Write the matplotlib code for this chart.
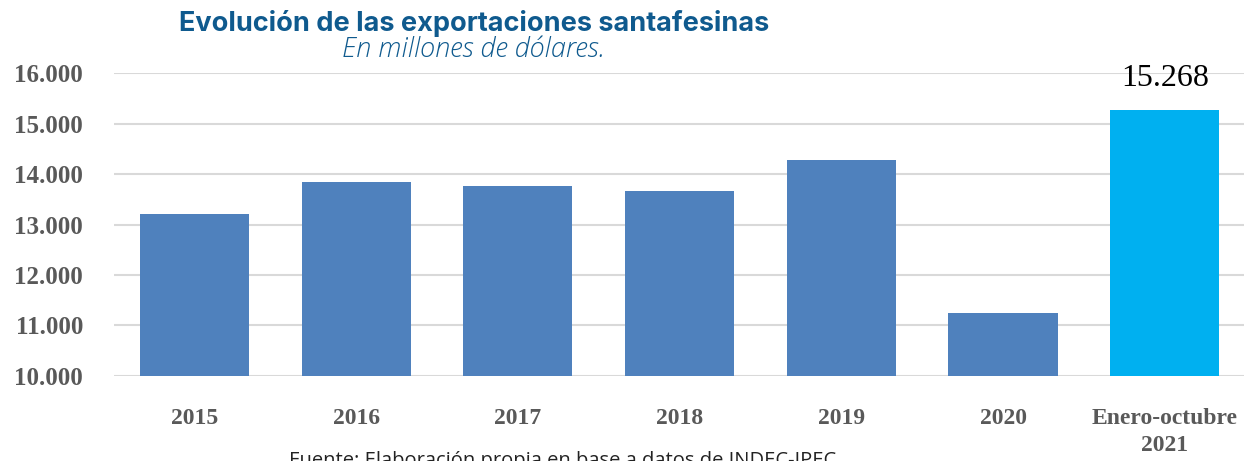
import matplotlib
matplotlib.use("Agg")
import matplotlib.pyplot as plt
from matplotlib.ticker import FuncFormatter

CATEGORIES = ["2015", "2016", "2017", "2018", "2019", "2020", "Enero-octubre\n2021"]
EXPORTS    = [13208, 13842, 13762, 13663, 14277, 11248, 15268]
BAR_COLORS = ["#4F81BD"] * 6 + ["#00B0F0"]
Y_TICKS    = [10000, 11000, 12000, 13000, 14000, 15000, 16000]

TITLE_BLUE = "#0F5A8E"
TICK_GRAY  = "#595959"

fig = plt.figure(figsize=(12.44, 4.61), dpi=100)
ax = fig.add_axes([0.0913, 0.1844, 0.9087, 0.6572])

x = range(len(CATEGORIES))
ax.bar(x, [v - Y_TICKS[0] for v in EXPORTS], bottom=Y_TICKS[0],
       width=0.675, color=BAR_COLORS, zorder=3)

# label only the last bar
ax.text(6, EXPORTS[-1] + 330, "15.268", ha="center", va="bottom",
        fontsize=23, family="Liberation Serif", color="black")

ax.set_ylim(Y_TICKS[0], Y_TICKS[-1])
ax.set_xlim(-0.5, 6.49)
ax.set_yticks(Y_TICKS)
ax.yaxis.set_major_formatter(FuncFormatter(lambda v, p: f"{int(v):,}".replace(",", ".")))
ax.set_xticks(list(x))
ax.set_xticklabels(CATEGORIES, linespacing=1.4)

ax.grid(axis="y", color="#D9D9D9", linewidth=1.5, zorder=0)
ax.set_axisbelow(True)
for s in ax.spines.values():
    s.set_visible(False)
ax.tick_params(axis="both", length=0, colors=TICK_GRAY)
ax.tick_params(axis="y", pad=22)
ax.tick_params(axis="x", pad=23)
for lbl in ax.get_yticklabels():
    lbl.set_fontfamily("Liberation Serif")
    lbl.set_fontweight("bold")
    lbl.set_fontsize(18)
for lbl in ax.get_xticklabels():
    lbl.set_fontfamily("Liberation Serif")
    lbl.set_fontweight("bold")
    lbl.set_fontsize(17)

fig.text(0.381, 0.948, "Evolución de las exportaciones santafesinas",
         ha="center", va="center", fontsize=19.5, fontweight="bold",
         family="Inter", color=TITLE_BLUE)
fig.text(0.381, 0.893, "En millones de dólares.",
         ha="center", va="center", fontsize=19.5, style="italic",
         family="Open Sans", fontweight="light", color=TITLE_BLUE)
fig.text(0.452, -0.022, "Fuente: Elaboración propia en base a datos de INDEC-IPEC",
         ha="center", va="bottom", fontsize=14.5, family="Open Sans", color="#222222")

fig.savefig("out.png", dpi=100)
